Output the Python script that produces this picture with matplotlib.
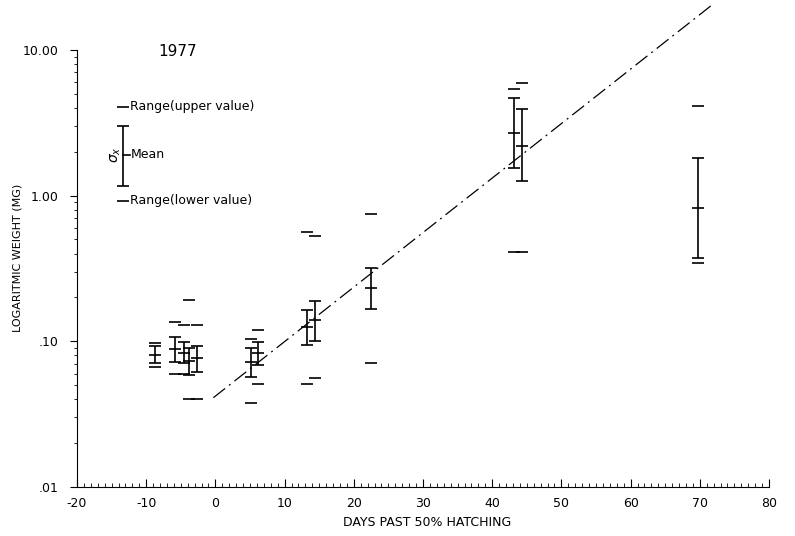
import matplotlib
matplotlib.use("Agg")
import matplotlib.pyplot as plt
import numpy as np

# days past 50% hatching and weights (mg)
days = [-8.7, -5.8, -4.6, -3.8, -2.7, 5.2, 6.2, 13.2, 14.4, 22.5, 43.2, 44.3, 69.8]
mean = [0.0805, 0.0887, 0.0836, 0.0733, 0.0766, 0.0719, 0.0828, 0.125, 0.140, 0.231, 2.68, 2.20, 0.82]
sd_hi = [0.093, 0.1077, 0.0995, 0.0897, 0.0935, 0.0897, 0.0995, 0.164, 0.190, 0.318, 4.66, 3.92, 1.81]
sd_lo = [0.0708, 0.0726, 0.0707, 0.0588, 0.0620, 0.0573, 0.0689, 0.0945, 0.101, 0.166, 1.54, 1.25, 0.372]
range_hi = [0.098, 0.1365, 0.130, 0.192, 0.130, 0.1033, 0.1198, 0.566, 0.528, 0.749, 5.40, 5.91, 4.13]
range_lo = [0.067, 0.0598, 0.0598, 0.0402, 0.0402, 0.0376, 0.0510, 0.0510, 0.0564, 0.0707, 0.409, 0.409, 0.344]

# fitted growth line
line_x = [-0.3, 71.8]
line_y = [0.041, 20.4]

# key (legend) sample
key_x = -13.3
key_vals = {"hi": 4.08, "top": 3.0, "mean": 1.90, "bot": 1.17, "lo": 0.92}

yticks = [0.01, 0.1, 1.0, 10.0]
ytick_labels = [".01", ".10", "1.00", "10.00"]
xticks = list(range(-20, 81, 10))

fig = plt.figure(figsize=(7.95, 5.36), dpi=100)
ax = fig.add_axes([77 / 795, 49 / 536, 692 / 795, 487 / 536])
ax.set_yscale("log")
ax.set_xlim(-20, 80)
ax.set_ylim(0.01, 22.0)

m = np.array(mean)
yerr = [m - np.array(sd_lo), np.array(sd_hi) - m]
ax.errorbar(days, mean, yerr=yerr, fmt="none", ecolor="black", elinewidth=1.2,
            capsize=4, capthick=1.2)
ax.plot(days, mean, linestyle="none", marker="_", markersize=9, mew=1.2, color="black")
ax.plot(days, range_hi, linestyle="none", marker="_", markersize=9, mew=1.2, color="black")
ax.plot(days, range_lo, linestyle="none", marker="_", markersize=9, mew=1.2, color="black")

ax.plot(line_x, line_y, color="black", lw=0.9, linestyle=(0, (12, 4, 1.5, 4)), clip_on=False)

# key
ax.errorbar([key_x], [key_vals["mean"]],
            yerr=[[key_vals["mean"] - key_vals["bot"]], [key_vals["top"] - key_vals["mean"]]],
            fmt="none", ecolor="black", elinewidth=1.2, capsize=4, capthick=1.2)
ax.plot([key_x, key_x + 0.9], [key_vals["mean"]] * 2, color="black", lw=1.2)
ax.plot([key_x, key_x], [key_vals["hi"], key_vals["lo"]], linestyle="none", marker="_",
        markersize=9, mew=1.2, color="black")
ax.text(key_x + 1.0, key_vals["hi"], "Range(upper value)", fontsize=9, va="center", ha="left")
ax.text(key_x + 1.0, key_vals["mean"], "Mean", fontsize=9, va="center", ha="left")
ax.text(key_x + 1.0, key_vals["lo"], "Range(lower value)", fontsize=9, va="center", ha="left")
ax.text(key_x - 1.1, key_vals["mean"], r"$\sigma_x$", fontsize=10, rotation=90,
        va="center", ha="center")
ax.text(-5.4, 9.7, "1977", fontsize=11, ha="center", va="center")

ax.spines["top"].set_visible(False)
ax.spines["right"].set_visible(False)
ax.spines["left"].set_bounds(0.01, 10.0)

ax.set_yticks(yticks)
ax.set_yticklabels(ytick_labels, fontsize=9)
minor_y = [d * k for d in (0.01, 0.1, 1.0) for k in range(2, 10)]
ax.yaxis.set_minor_locator(matplotlib.ticker.FixedLocator(minor_y))
ax.yaxis.set_minor_formatter(matplotlib.ticker.NullFormatter())
ax.tick_params(axis="y", which="major", direction="out", length=5, pad=8)
ax.tick_params(axis="y", which="minor", direction="out", length=2.5)

ax.set_xticks(xticks)
ax.set_xticklabels([str(t) for t in xticks], fontsize=9)
ax.xaxis.set_minor_locator(matplotlib.ticker.MultipleLocator(1))
ax.tick_params(axis="x", which="major", direction="in", length=6, pad=7)
ax.tick_params(axis="x", which="minor", direction="in", length=3)

fig.text(427 / 795, 1 - 522 / 536, "DAYS PAST 50% HATCHING", fontsize=9, ha="center", va="center")
fig.text(18 / 795, 1 - 258 / 536, "LOGARITMIC WEIGHT (MG)", fontsize=8, rotation=90,
         ha="center", va="center")

fig.savefig("out.png", dpi=100)
